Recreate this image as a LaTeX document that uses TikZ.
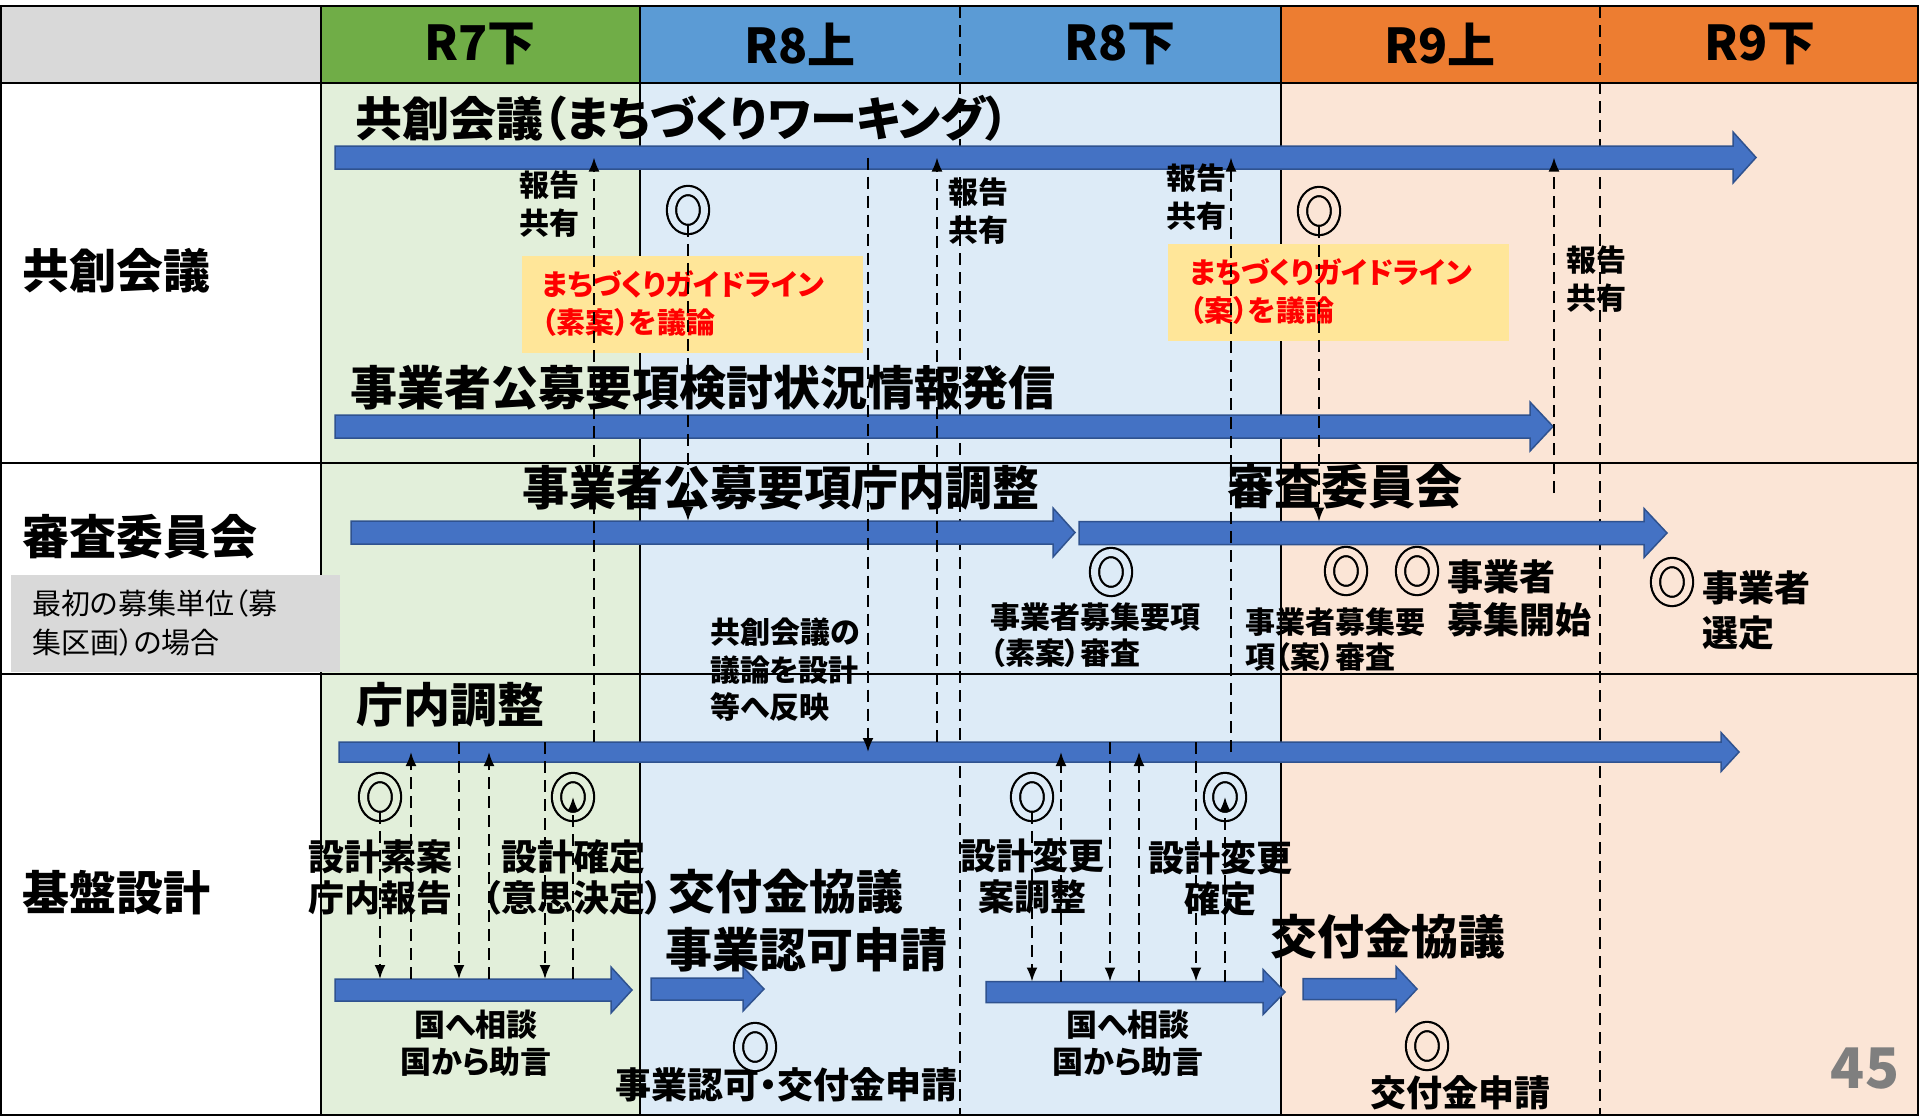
\documentclass[tikz,border=0pt]{standalone}
\usepackage{fontspec}
\setmainfont{Noto Sans CJK JP}[RawFeature=+palt]
\usetikzlibrary{arrows.meta,shapes.geometric}
\definecolor{hdgray}{HTML}{D9D9D9}
\definecolor{hdgreen}{HTML}{70AD47}
\definecolor{hdblue}{HTML}{5B9BD5}
\definecolor{hdorange}{HTML}{ED7D31}
\definecolor{bggreen}{HTML}{E2EFDA}
\definecolor{bgblue}{HTML}{DDEBF7}
\definecolor{bgorange}{HTML}{FBE5D6}
\definecolor{blk}{HTML}{4472C4}
\definecolor{blkdark}{HTML}{2F528F}
\definecolor{memo}{HTML}{FFE699}
\definecolor{pagenum}{HTML}{7F7F7F}
\tikzset{
   grid/.style = {line width=2.5pt, black},
  vdash/.style = {line width=2pt, dash pattern=on 12pt off 7pt},
  shaft/.style = {rectangle, inner sep=0pt, outer sep=0pt},
blkline/.style = {fill=blk, draw=blkdark, line width=1.5pt},
  dmark/.style = {ellipse, draw, line width=2.2pt, double=#1,
                  double distance=7pt, minimum width=33pt,
                  minimum height=39pt, inner sep=0pt},
 dashar/.style = {line width=2pt, dash pattern=on 12pt off 7pt,
                  -{Latex[length=14pt,width=11pt]}},
    hd/.style = {inner sep=0pt, font=\bfseries\fontsize{48}{48}\selectfont},
   big/.style = {inner sep=0pt, anchor=west, font=\bfseries\fontsize{47}{52}\selectfont},
   mid/.style = {inner sep=0pt, align=center, font=\bfseries\fontsize{36}{41}\selectfont},
   sml/.style = {inner sep=0pt, align=center, font=\bfseries\fontsize{30}{38}\selectfont},
   red/.style = {inner sep=0pt, anchor=west, align=left, text=red,
                 font=\bfseries\fontsize{29}{38}\selectfont},
}
% block arrow: name, x start, x head back, y centre, half shaft, half head, head length
\newcommand{\blkarrow}[7]{%
  \node[shaft, minimum width={#3-#2}, minimum height={2*#5}, anchor=west] (#1) at (#2,#4) {};
  \draw[blkline] (#1.north west) -- (#1.north east) -- ([yshift={#6-#5}]#1.north east)
    -- ([xshift=#7]#1.east) -- ([yshift={#5-#6}]#1.south east) -- (#1.south east)
    -- (#1.south west) -- cycle;
}
\begin{document}
\begin{tikzpicture}[x=1pt,y=-1pt]
\useasboundingbox (0,0) rectangle (1920,1117);
% table
\fill[hdgray] (0,6) rectangle (321,83);
\fill[hdgreen] (321,6) rectangle (640,83);
\fill[hdblue] (640,6) rectangle (1281,83);
\fill[hdorange] (1281,6) rectangle (1918,83);
\fill[white] (0,83) rectangle (321,1115);
\fill[bggreen] (321,83) rectangle (640,1115);
\fill[bgblue] (640,83) rectangle (1281,1115);
\fill[bgorange] (1281,83) rectangle (1918,1115);
\draw[grid] (1,6) rectangle (1918,1115);
\foreach \y in {83,463,674} \draw[grid] (1,\y) -- (1918,\y);
\foreach \x in {321,640,1281} \draw[grid] (\x,6) -- (\x,1115);
\foreach \x in {960,1600} \draw[vdash] (\x,6) -- (\x,1115);
\foreach \x/\t [count=\i] in {480/R7下,800/R8上,1120/R8下,1440/R9上,1760/R9下}
  \node[hd] (hd\i) at (\x,44) {\t};

% row labels
\node[big] (lkyoso) at (22,271) {共創会議};
\node[big] (lshinsa) at (22,537) {審査委員会};
\node[big] (lkiban) at (22,893) {基盤設計};
\fill[hdgray] (11,575) rectangle (340,672);
\node[inner sep=0pt, anchor=west, align=left, font=\fontsize{29}{39}\selectfont] (note) at (32,623)
  {最初の募集単位（募\\集区画）の場合};

% memo boxes
\fill[memo] (522,256) rectangle (863,353);
\node[red] (gl1) at (542,303) {まちづくりガイドライン\\（素案）を議論};
\fill[memo] (1168,244) rectangle (1509,341);
\node[red] (gl2) at (1190,291) {まちづくりガイドライン\\（案）を議論};

% block arrows
\blkarrow{kyoso}{335}{1733}{157.5}{11.5}{25.5}{23}
\blkarrow{hasshin}{335}{1530}{426.5}{11.5}{24.5}{23}
\blkarrow{chonai}{351}{1053}{532.5}{11.5}{24.5}{22}
\blkarrow{shinsa}{1079}{1644}{533}{11.5}{24.5}{23}
\blkarrow{kiban}{339}{1721}{752}{10}{19.5}{18}
\blkarrow{sodan1}{335}{611}{990}{11}{23}{21}
\blkarrow{kofu1}{651}{743}{989}{11}{22}{21}
\blkarrow{sodan2}{986}{1263}{992}{10.5}{22.5}{22}
\blkarrow{kofu2}{1303}{1396}{989}{10.5}{22.5}{21}

% texts
\node[big] (tkyoso) at (355,118) {共創会議（まちづくりワーキング）};
\node[big] (thasshin) at (350,388) {事業者公募要項検討状況情報発信};
\node[big] (tchonai) at (522,488) {事業者公募要項庁内調整};
\node[big] (tshinsa) at (1227,487) {審査委員会};
\node[big] (tkiban) at (356,705) {庁内調整};
\node[big] (tkyogi1) at (668,892) {交付金協議};
\node[big] (tninka) at (665,950) {事業認可申請};
\node[big] (tkyogi2) at (1270,937) {交付金協議};
\node[sml] (rep1) at (549,204) {報告\\共有};
\node[sml] (rep2) at (978,211) {報告\\共有};
\node[sml] (rep3) at (1196,197) {報告\\共有};
\node[sml] (rep4) at (1596,279) {報告\\共有};
\node[sml, anchor=west, align=left, font=\bfseries\fontsize{30}{37.5}\selectfont] (hanei) at (710,670)
  {共創会議の\\議論を設計\\等へ反映};
\node[sml, anchor=west, align=left, font=\bfseries\fontsize{30}{36}\selectfont] (soanshin) at (990,635)
  {事業者募集要項\\（素案）審査};
\node[sml, anchor=west, align=left, font=\bfseries\fontsize{30}{35}\selectfont] (anshin) at (1245,640)
  {事業者募集要\\項（案）審査};
\node[mid, anchor=west, align=left, font=\bfseries\fontsize{36}{43}\selectfont] (boshu) at (1447,598)
  {事業者\\募集開始};
\node[mid, anchor=west, align=left, font=\bfseries\fontsize{36}{45}\selectfont] (sentei) at (1702,610)
  {事業者\\選定};
\node[mid] (soan) at (380,877) {設計素案\\庁内報告};
\node[mid] (kakutei) at (573,877) {設計確定\\（意思決定）};
\node[mid] (henko) at (1032,876) {設計変更\\案調整};
\node[mid] (hkakutei) at (1220,878) {設計変更\\確定};
\node[sml, font=\bfseries\fontsize{31}{37}\selectfont] (sodantxt1) at (476,1043) {国へ相談\\国から助言};
\node[sml, font=\bfseries\fontsize{31}{37}\selectfont] (sodantxt2) at (1128,1043) {国へ相談\\国から助言};
\node[mid, anchor=west] (shinsei1) at (615,1085) {事業認可・交付金申請};
\node[mid] (shinsei2) at (1460,1093) {交付金申請};
\node[inner sep=0pt, text=pagenum, font=\bfseries\fontsize{56}{56}\selectfont] (page) at (1865,1069) {45};

% double circle marks
\node[dmark=bgblue] (mgl1) at (688,210) {};
\node[dmark=bgorange] (mgl2) at (1319,211) {};
\node[dmark=bgblue] (mshin1) at (1111,572) {};
\node[dmark=bgorange] (mshin2) at (1346,571) {};
\node[dmark=bgorange] (mboshu) at (1417,571) {};
\node[dmark=bgorange] (msentei) at (1672,582) {};
\node[dmark=bggreen] (msoan) at (380,797) {};
\node[dmark=bggreen] (mkakutei) at (573,797) {};
\node[dmark=bgblue] (mhenko) at (1032,797) {};
\node[dmark=bgblue] (mhkakutei) at (1225,797) {};
\node[dmark=bgblue] (mninka) at (755,1047) {};
\node[dmark=bgorange] (mkofu) at (1427,1046) {};

% dashed connectors
\coordinate (rep4end) at (1554,493);
\draw[dashar] (594,0 |- kiban.north) -- (594,0 |- kyoso.center);
\draw[dashar] ([yshift=5.7pt]mgl1.south) -- (mgl1 |- chonai.north);
\draw[dashar] (868,0 |- kyoso.center) -- (868,0 |- kiban.center);
\draw[dashar] (937,0 |- kiban.north) -- (937,0 |- kyoso.center);
\draw[dashar] (1231,0 |- kiban.center) -- (1231,0 |- kyoso.center);
\draw[dashar] ([yshift=5.7pt]mgl2.south) -- (mgl2 |- shinsa.north);
\draw[dashar] (rep4end) -- (rep4end |- kyoso.center);
% kiban sekkei, left
\draw[dashar] ([yshift=5.7pt]msoan.south) -- (msoan |- sodan1.north);
\draw[dashar] (411,0 |- sodan1.north) -- (411,0 |- kiban.center);
\draw[dashar] (459,0 |- kiban.north) -- (459,0 |- sodan1.north);
\draw[dashar] (489,0 |- sodan1.north) -- (489,0 |- kiban.center);
\draw[dashar] (545,0 |- kiban.north) -- (545,0 |- sodan1.north);
\draw[dashar] (mkakutei |- sodan1.north) -- (mkakutei.center);
% kiban sekkei, right
\draw[dashar] ([yshift=5.7pt]mhenko.south) -- (mhenko |- sodan2.north);
\draw[dashar] (1061,0 |- sodan2.north) -- (1061,0 |- kiban.center);
\draw[dashar] (1110,0 |- kiban.north) -- (1110,0 |- sodan2.north);
\draw[dashar] (1139,0 |- sodan2.north) -- (1139,0 |- kiban.center);
\draw[dashar] (1196,0 |- kiban.north) -- (1196,0 |- sodan2.north);
\draw[dashar] (mhkakutei |- sodan2.north) -- (mhkakutei.center);
\end{tikzpicture}
\end{document}
